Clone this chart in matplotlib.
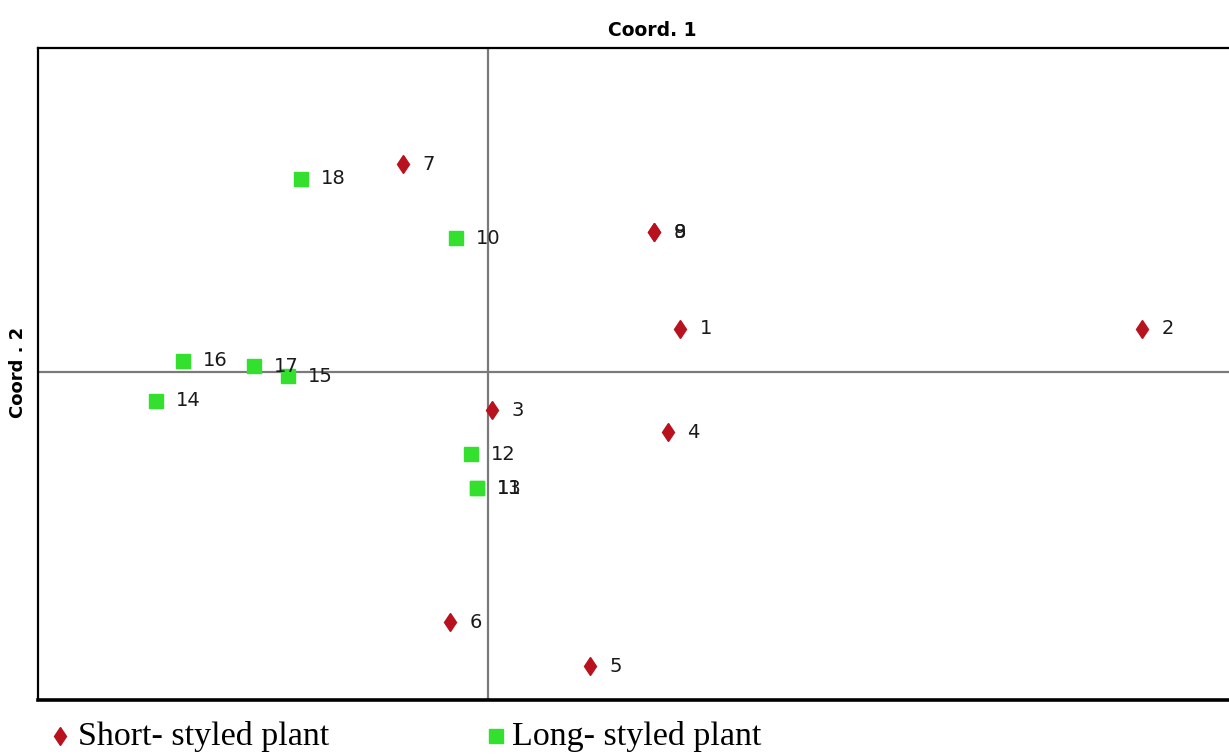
import matplotlib
matplotlib.use("Agg")
import matplotlib.pyplot as plt
from matplotlib.lines import Line2D

# Short-styled plants (red diamonds)
short_labels = ["1", "2", "3", "4", "5", "6", "7", "8", "9"]
short_x = [0.096, 0.327, 0.002, 0.090, 0.051, -0.019, -0.0425, 0.083, 0.083]
short_y = [0.0215, 0.0215, -0.019, -0.030, -0.147, -0.125, 0.104, 0.070, 0.070]

# Long-styled plants (green squares)
long_labels = ["10", "11", "12", "13", "14", "15", "16", "17", "18"]
long_x = [-0.016, -0.0055, -0.0085, -0.0055, -0.166, -0.100, -0.1525, -0.117, -0.0935]
long_y = [0.067, -0.058, -0.041, -0.058, -0.0145, -0.002, 0.0055, 0.003, 0.0965]

xlim = (-0.225, 0.376)
ylim = (-0.164, 0.162)

W, H = 1229, 754
fig = plt.figure(figsize=(W / 100, H / 100), dpi=100)
ax = fig.add_axes([38 / W, 1 - 700 / H, (1240 - 38) / W, (700 - 48) / H])
ax.set_xlim(*xlim)
ax.set_ylim(*ylim)
ax.set_xticks([])
ax.set_yticks([])
ax.spines["right"].set_visible(False)
ax.spines["left"].set_linewidth(1.6)
ax.spines["top"].set_linewidth(1.6)
ax.spines["bottom"].set_linewidth(2.6)
for s in ax.spines.values():
    s.set_color("black")

ax.axhline(0, color="#7a7a7a", lw=1.6, zorder=1)
ax.axvline(0, color="#7a7a7a", lw=1.6, zorder=1)

red = "#b8121e"
green = "#33e02e"
ax.plot(short_x, short_y, linestyle="none", marker="d", ms=9.5, color=red,
        zorder=3)
ax.plot(long_x, long_y, linestyle="none", marker="s", ms=9.5, color=green,
        zorder=3)

for lab, x, y in zip(short_labels, short_x, short_y):
    ax.annotate(lab, (x, y), xytext=(14, 0), textcoords="offset points",
                va="center", ha="left", fontsize=14, color="#1a1a1a", zorder=4)
for lab, x, y in zip(long_labels, long_x, long_y):
    ax.annotate(lab, (x, y), xytext=(14, 0), textcoords="offset points",
                va="center", ha="left", fontsize=14, color="#1a1a1a", zorder=4)

fig.text(652 / W, 1 - 30 / H, "Coord. 1", ha="center", va="center",
         fontsize=13.5, fontweight="bold", family="DejaVu Sans")
fig.text(18 / W, 1 - 372 / H, "Coord . 2", ha="center", va="center",
         rotation=90, fontsize=13, fontweight="bold", family="DejaVu Sans")

# Legend
fig.add_artist(Line2D([60 / W], [1 - 736 / H], transform=fig.transFigure,
                      marker="d", ms=9.5, color=red, linestyle="none"))
fig.text(78 / W, 1 - 736 / H, "Short- styled plant", ha="left", va="center",
         fontsize=24.5, family="Liberation Serif")
fig.add_artist(Line2D([496 / W], [1 - 736 / H], transform=fig.transFigure,
                      marker="s", ms=10, color=green, linestyle="none"))
fig.text(512 / W, 1 - 736 / H, "Long- styled plant", ha="left", va="center",
         fontsize=24.5, family="Liberation Serif")

fig.savefig("out.png", dpi=100)
